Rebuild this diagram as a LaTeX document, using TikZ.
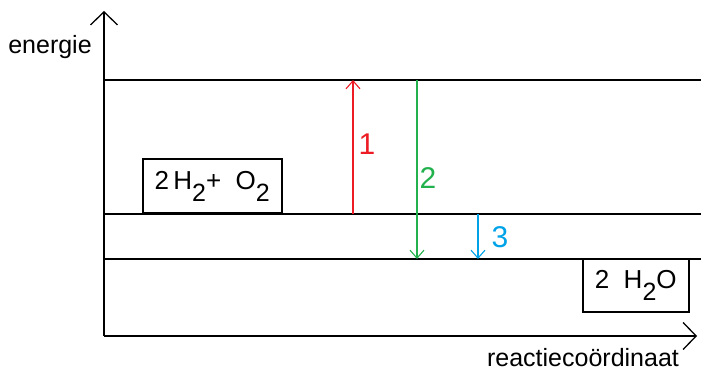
\documentclass[tikz,border=0pt]{standalone}
\usepackage{fontspec}
\setmainfont{Liberation Sans}
\usetikzlibrary{arrows.meta, positioning}
\definecolor{paintred}{RGB}{237,28,36}
\definecolor{paintgreen}{RGB}{34,177,76}
\definecolor{paintblue}{RGB}{0,162,232}
\newcommand{\sub}[1]{\raisebox{-12pt}{\fontsize{25}{25}\selectfont #1}}
\tikzset{
    axis/.style={
        line width=1.5pt,
        -{Straight Barb[length=13pt,width=27pt,line width=1.3pt]}
    },
    level/.style={line width=1.5pt},
    species/.style={
        draw,
        line width=1.5pt,
        inner sep=0pt,
        font=\fontsize{26}{28}\selectfont
    },
    trans/.style={
        line width=1.3pt,
        -{Straight Barb[length=8pt,width=14pt,line width=1.1pt]}
    },
    label/.style={inner sep=0pt, font=\fontsize{25}{27}\selectfont},
    number/.style={font=\fontsize{30}{32}\selectfont}
}
\begin{document}
\begin{tikzpicture}[x=1pt, y=-1pt]
            \useasboundingbox (0,0) rectangle (701,371);

            % Axes
            \coordinate (origin) at (104,336);
            \coordinate (ytop) at (104,11);
            \coordinate (xend) at (697,336);
            \draw [axis] (origin) -- (ytop);
            \draw [axis] (origin) -- (xend);
            \node (ylabel) [label] at (50,47) {energie};
            \node (xlabel) [label] at (583,358) {reactieco\"ordinaat};

            % Levels
            \coordinate (topL) at (104,80);
            \coordinate (topR) at (701,80);
            \coordinate (midL) at (104,214);
            \coordinate (midR) at (701,214);
            \coordinate (lowL) at (104,259);
            \coordinate (lowR) at (701,259);
            \draw [level] (topL) -- (topR);
            \draw [level] (midL) -- (midR);
            \draw [level] (lowL) -- (lowR);

            % Species
            \node (react) [
                species,
                anchor=south west,
                minimum width=139pt,
                minimum height=54pt
            ] at (142,214) {2\,H\sub{2}+\ \ O\sub{2}};
            \node (prod) [
                species,
                anchor=north west,
                minimum width=106pt,
                minimum height=52pt
            ] at (582,259) {2\ \ H\sub{2}O};

            % Transitions
            \coordinate (redA) at (353,214);
            \coordinate (redB) at (353,80);
            \coordinate (greenA) at (417,80);
            \coordinate (greenB) at (417,259);
            \coordinate (blueA) at (478,214);
            \coordinate (blueB) at (478,259);
            \draw [trans, paintred] (redA) -- (redB);
            \draw [trans, paintgreen] (greenA) -- (greenB);
            \draw [trans, paintblue] (blueA) -- (blueB);
            \node (n1) [number, paintred] at (367,144) {1};
            \node (n2) [number, paintgreen] at (428,178) {2};
            \node (n3) [number, paintblue] at (500,237) {3};
        \end{tikzpicture}
\end{document}
